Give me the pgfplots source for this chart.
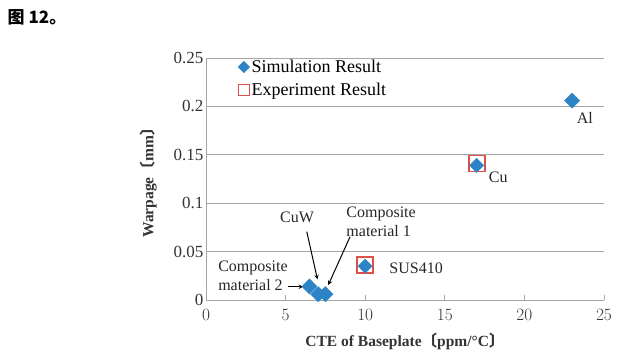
\documentclass[border=0pt]{standalone}
\usepackage{pgfplots}
\pgfplotsset{compat=1.18}
\usepackage{fontspec}
\setmainfont{Liberation Serif}
\newfontfamily\cjk{Noto Sans CJK SC}
\definecolor{simblue}{HTML}{2C83C6}
\definecolor{expred}{HTML}{E0504A}
\definecolor{gridgray}{HTML}{A6A6A6}
\begin{document}
\begin{tikzpicture}
\begin{axis}[
  scale only axis, width=398pt, height=242pt,
  xmin=0, xmax=25, ymin=0, ymax=0.25,
  xtick={0,5,10,15,20,25},
  ytick={0,0.05,0.1,0.15,0.2,0.25},
  yticklabels={0,0.05,0.1,0.15,0.2,0.25},
  axis x line=bottom, axis y line=left,
  axis line style={-, gridgray, line width=0.8pt},
  x tick style={gridgray, line width=0.8pt},
  tick align=inside, major tick length=5pt,
  y tick style={draw=none},
  ymajorgrids, grid style={gridgray, line width=0.8pt},
  tick label style={font=\fontsize{17}{17}\selectfont, text=black!80},
  xticklabel style={yshift=-6pt},
  yticklabel style={xshift=1pt},
  xlabel={\bfseries CTE of Baseplate{\cjk 〔}ppm/°C{\cjk 〕}},
  ylabel={\bfseries Warpage{\cjk 〔}mm{\cjk 〕}},
  label style={font=\fontsize{15.5}{15.5}\selectfont, text=black!80},
  xlabel style={yshift=-6pt},
  ylabel style={yshift=10pt},
  clip=false,
  legend style={at={(rel axis cs:0.078,1.005)}, anchor=north west, draw=none, fill=none,
    font=\fontsize{18}{18}\selectfont, row sep=5pt, inner sep=1pt,
    legend cell align=left, /tikz/every even column/.append style={column sep=1pt}},
  legend image code/.code={\draw[#1] plot coordinates {(0.15cm,0cm)};},
]
\addplot[only marks, mark=square*, mark options={rotate=45}, mark size=5.4pt, color=simblue,
  legend image post style={mark size=4pt}] coordinates {
  (23,0.206) (6.5,0.014) (7.05,0.006) (7.5,0.006)
};
\addlegendentry{Simulation Result}
\addplot[only marks, mark=square, mark size=8pt, color=expred, line width=1.8pt,
  legend image post style={mark size=5.5pt}] coordinates {
  (17,0.141) (10,0.036)
};
\addlegendentry{Experiment Result}
\addplot[only marks, mark=square*, mark options={rotate=45}, mark size=5pt, color=simblue, forget plot] coordinates {
  (17,0.139) (10,0.035)
};
\begin{scope}[font=\fontsize{16}{19}\selectfont, text=black!85]
\node at (axis cs:23.8,0.188) {Al};
\node[anchor=west] at (axis cs:17.55,0.127) {Cu};
\node[anchor=west] at (axis cs:11.3,0.033) {SUS410};
\node at (axis cs:5.72,0.0857) {CuW};
\node[align=left] at (axis cs:11.0,0.0810) {Composite\\material 1};
\node[align=left] at (axis cs:2.95,0.0255) {Composite\\material 2};
\end{scope}
\draw[-stealth, line width=1pt] (axis cs:6.33,0.0706) -- (axis cs:7.0,0.0214);
\draw[-stealth, line width=1pt] (axis cs:9.05,0.0654) -- (axis cs:7.68,0.0155);
\draw[-stealth, line width=1pt] (axis cs:5.15,0.0137) -- (axis cs:6.1,0.0137);
\node[anchor=west, font=\cjk\bfseries\fontsize{17}{17}\selectfont] at (rel axis cs:-0.507,1.170) {图 12。};
\path (rel axis cs:-0.5176,-0.2355) rectangle (rel axis cs:1.0653,1.2397);
\end{axis}
\end{tikzpicture}
\end{document}
